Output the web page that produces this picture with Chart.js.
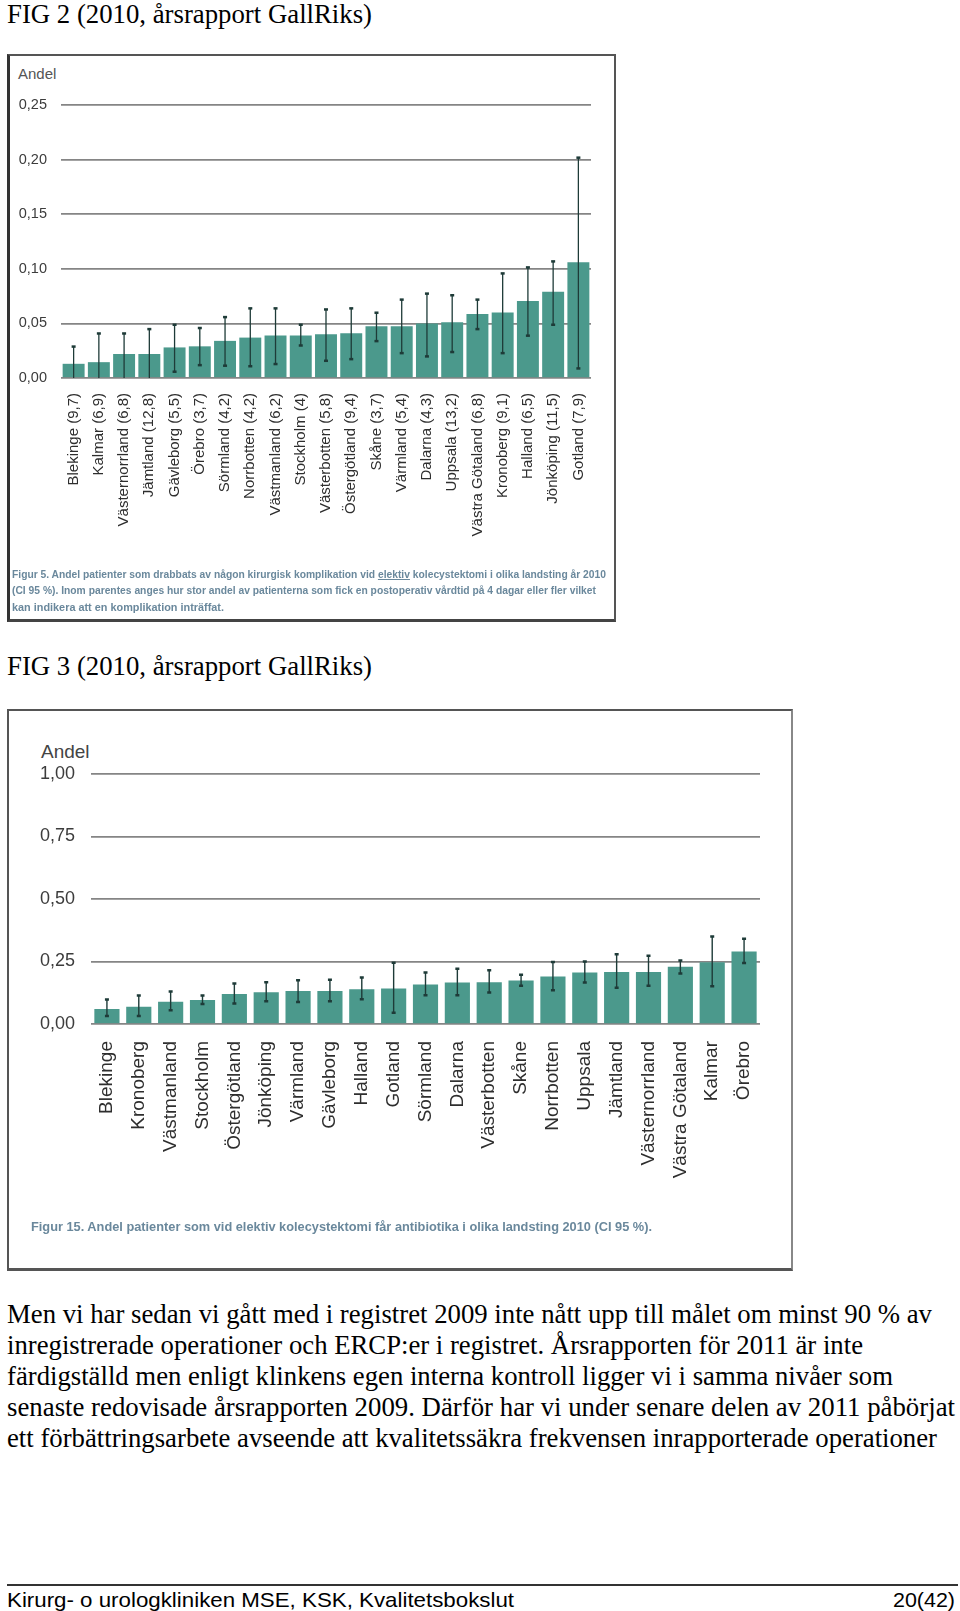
<!DOCTYPE html>
<html>
<head>
<meta charset="utf-8">
<script src="https://cdn.jsdelivr.net/npm/chart.js@4.4.1/dist/chart.umd.min.js"></script>
<style>
  html, body { margin: 0; padding: 0; background: #fff; }
  body { position: relative; width: 960px; height: 1611px; overflow: hidden; }
  .t { position: absolute; white-space: nowrap; transform-origin: 0 0; }
  .serif { font-family: "Liberation Serif", "Times New Roman", serif; color: #000; }
  .sans { font-family: "Liberation Sans", Arial, sans-serif; }
  .frame { position: absolute; box-sizing: border-box; background: #fff; }
  canvas { position: absolute; }
  .cap { font-family: "Liberation Sans", Arial, sans-serif; font-weight: bold; color: #6a889c; }
</style>
</head>
<body>

<div class="t serif" data-w="365" style="left:7px; top:0px; font-size:28px; line-height:28px;">FIG 2 (2010, årsrapport GallRiks)</div>

<div class="frame" style="left:7px; top:54px; width:609px; height:568px; border:2px solid #555; border-left:3px solid #333; border-bottom:3px solid #444;"></div>
<div class="t sans" style="left:18px; top:66px; font-size:15px; line-height:15px; color:#555;">Andel</div>
<canvas id="fig2" width="604" height="560" style="left:9px; top:57px;"></canvas>
<div class="t cap" data-w="594" style="left:12px; top:569px; font-size:11px; line-height:11px;">Figur 5. Andel patienter som drabbats av någon kirurgisk komplikation vid <u>elektiv</u> kolecystektomi i olika landsting år 2010</div>
<div class="t cap" data-w="584" style="left:12px; top:585px; font-size:11px; line-height:11px;">(CI 95 %). Inom parentes anges hur stor andel av patienterna som fick en postoperativ vårdtid på 4 dagar eller fler vilket</div>
<div class="t cap" data-w="212" style="left:12px; top:602px; font-size:11px; line-height:11px;">kan indikera att en komplikation inträffat.</div>

<div class="t serif" data-w="365" style="left:7px; top:652px; font-size:28px; line-height:28px;">FIG 3 (2010, årsrapport GallRiks)</div>

<div class="frame" style="left:7px; top:709px; width:786px; height:562px; border:2px solid #555; border-bottom:3px solid #555; border-right:2px solid #888;"></div>
<div class="t sans" style="left:41px; top:742px; font-size:19px; line-height:19px; color:#444;">Andel</div>
<canvas id="fig3" width="781" height="557" style="left:9px; top:711px;"></canvas>
<div class="t cap" data-w="621" style="left:31px; top:1220px; font-size:13px; line-height:13px;">Figur 15. Andel patienter som vid elektiv kolecystektomi får antibiotika i olika landsting 2010 (CI 95 %).</div>

<div class="t serif" data-w="925" style="left:7px; top:1300px; font-size:28px; line-height:28px;">Men vi har sedan vi gått med i registret 2009 inte nått upp till målet om minst 90 % av</div>
<div class="t serif" data-w="856" style="left:7px; top:1331px; font-size:28px; line-height:28px;">inregistrerade operationer och ERCP:er i registret. Årsrapporten för 2011 är inte</div>
<div class="t serif" data-w="886" style="left:7px; top:1362px; font-size:28px; line-height:28px;">färdigställd men enligt klinkens egen interna kontroll ligger vi i samma nivåer som</div>
<div class="t serif" data-w="948" style="left:7px; top:1393px; font-size:28px; line-height:28px;">senaste redovisade årsrapporten 2009. Därför har vi under senare delen av 2011 påbörjat</div>
<div class="t serif" data-w="930" style="left:7px; top:1424px; font-size:28px; line-height:28px;">ett förbättringsarbete avseende att kvalitetssäkra frekvensen inrapporterade operationer</div>

<div style="position:absolute; left:7px; top:1584px; width:951px; height:0; border-top:2px solid #333;"></div>
<div class="t sans" data-w="507" style="left:7px; top:1589px; font-size:21px; line-height:21px; color:#000;">Kirurg- o urologkliniken MSE, KSK, Kvalitetsbokslut</div>
<div class="t sans" id="pg" data-w="62" style="left:893px; top:1589px; font-size:21px; line-height:21px; color:#000;">20(42)</div>

<script>
// Figur 5: komplikationer per landsting (andel, CI 95 %)
const fig2Labels = ['Blekinge (9,7)', 'Kalmar (6,9)', 'Västernorrland (6,8)', 'Jämtland (12,8)', 'Gävleborg (5,5)',
  'Örebro (3,7)', 'Sörmland (4,2)', 'Norrbotten (4,2)', 'Västmanland (6,2)', 'Stockholm (4)', 'Västerbotten (5,8)',
  'Östergötland (9,4)', 'Skåne (3,7)', 'Värmland (5,4)', 'Dalarna (4,3)', 'Uppsala (13,2)', 'Västra Götaland (6,8)',
  'Kronoberg (9,1)', 'Halland (6,5)', 'Jönköping (11,5)', 'Gotland (7,9)'];
const fig2Values = [0.013, 0.0145, 0.022, 0.022, 0.028, 0.029, 0.034, 0.037, 0.039, 0.039, 0.040,
  0.041, 0.0475, 0.0475, 0.050, 0.051, 0.0585, 0.060, 0.0705, 0.079, 0.106];
const fig2Upper = [0.029, 0.041, 0.041, 0.045, 0.049, 0.046, 0.056, 0.064, 0.064, 0.049, 0.063,
  0.064, 0.060, 0.072, 0.0775, 0.076, 0.072, 0.096, 0.1015, 0.107, 0.202];
const fig2Lower = [0, 0, 0, 0, 0.006, 0.012, 0.0115, 0.011, 0.013, 0.030, 0.016,
  0.0175, 0.034, 0.023, 0.020, 0.024, 0.045, 0.023, 0.039, 0.049, 0.009];
const fig2Ticks = [0, 0.05, 0.10, 0.15, 0.20, 0.25];

// Figur 15: antibiotika per landsting (andel, CI 95 %)
const fig3Labels = ['Blekinge', 'Kronoberg', 'Västmanland', 'Stockholm', 'Östergötland', 'Jönköping', 'Värmland',
  'Gävleborg', 'Halland', 'Gotland', 'Sörmland', 'Dalarna', 'Västerbotten', 'Skåne', 'Norrbotten', 'Uppsala',
  'Jämtland', 'Västernorrland', 'Västra Götaland', 'Kalmar', 'Örebro'];
const fig3Values = [0.060, 0.069, 0.089, 0.096, 0.120, 0.127, 0.132, 0.132, 0.139, 0.142, 0.158,
  0.166, 0.167, 0.174, 0.190, 0.206, 0.208, 0.208, 0.229, 0.247, 0.290];
const fig3Upper = [0.099, 0.115, 0.131, 0.115, 0.163, 0.168, 0.176, 0.178, 0.187, 0.246, 0.207,
  0.222, 0.216, 0.198, 0.249, 0.251, 0.280, 0.274, 0.255, 0.351, 0.342];
const fig3Lower = [0.033, 0.033, 0.056, 0.081, 0.083, 0.092, 0.089, 0.092, 0.100, 0.046, 0.116,
  0.116, 0.127, 0.154, 0.136, 0.167, 0.146, 0.154, 0.203, 0.152, 0.245];
const fig3Ticks = [0, 0.25, 0.50, 0.75, 1.00];

const barColor = '#4b998c';
const whiskerColor = '#1e3b38';

// error bars drawn through the y scale of each chart
const errorBars = {
  id: 'errorBars',
  afterDatasetsDraw(chart, args, opts) {
    const ctx = chart.ctx;
    const y = chart.scales.y;
    const meta = chart.getDatasetMeta(0);
    ctx.save();
    ctx.strokeStyle = whiskerColor;
    ctx.fillStyle = whiskerColor;
    ctx.lineWidth = opts.lineWidth;
    meta.data.forEach((bar, i) => {
      const top = y.getPixelForValue(opts.upper[i]);
      const bot = y.getPixelForValue(opts.lower[i]);
      ctx.beginPath();
      ctx.moveTo(bar.x, top);
      ctx.lineTo(bar.x, bot);
      ctx.stroke();
      ctx.fillRect(bar.x - opts.cap / 2, top - 1, opts.cap, 2.5);
      if (opts.lower[i] > 0) ctx.fillRect(bar.x - opts.cap / 2, bot - 1, opts.cap, 2.5);
    });
    ctx.restore();
  }
};

makeChart = (id, labels, values, upper, lower, ticks, cfg) => {
  return new Chart(document.getElementById(id), {
    type: 'bar',
    data: {
      labels: labels,
      datasets: [{
        data: values,
        backgroundColor: barColor,
        borderWidth: 0,
        barPercentage: cfg.barPct,
        categoryPercentage: 1
      }]
    },
    plugins: [errorBars],
    options: {
      responsive: false,
      animation: false,
      layout: { padding: cfg.padding },
      plugins: {
        legend: { display: false },
        tooltip: { enabled: false },
        errorBars: { upper: upper, lower: lower, cap: cfg.cap, lineWidth: cfg.whisker }
      },
      scales: {
        x: {
          afterFit: (s) => { s.height = cfg.xHeight; },
          grid: { display: false },
          border: { display: false },
          ticks: {
            minRotation: 90, maxRotation: 90, autoSkip: false,
            padding: cfg.xPad,
            color: '#2e2e2e',
            font: { family: 'Liberation Sans, Arial, sans-serif', size: cfg.xFont }
          }
        },
        y: {
          min: 0,
          max: ticks[ticks.length - 1],
          afterFit: (s) => { s.width = cfg.yWidth; },
          afterBuildTicks: (s) => { s.ticks = ticks.map(v => ({ value: v })); },
          border: { display: false },
          grid: { color: '#858585', lineWidth: cfg.gridWidth, drawTicks: false },
          ticks: {
            padding: cfg.yPad,
            color: '#3c3c3c',
            font: { family: 'Liberation Sans, Arial, sans-serif', size: cfg.yFont },
            callback: (v) => v.toFixed(2).replace('.', ',')
          }
        }
      }
    }
  });
}

// fit a line of text to the width it has in the page
fitText = () => {
  document.querySelectorAll('[data-w]').forEach(el => {
    el.style.transform = 'none';
    const w = el.getBoundingClientRect().width;
    const target = parseFloat(el.dataset.w);
    el.style.transform = `scaleX(${target / w})`;
    if (el.id === 'pg') el.style.left = (955 - target) + 'px';
  });
}

loadWindow = () => {
  fitText();
  makeChart('fig2', fig2Labels, fig2Values, fig2Upper, fig2Lower, fig2Ticks, {
    barPct: 0.87, padding: { left: 0, top: 48, right: 22, bottom: 0 },
    xHeight: 239, yWidth: 52, xPad: 7, yPad: 14, xFont: 15, yFont: 14.5,
    cap: 4, whisker: 1.3, gridWidth: 1.7
  });
  makeChart('fig3', fig3Labels, fig3Values, fig3Upper, fig3Lower, fig3Ticks, {
    barPct: 0.79, padding: { left: 0, top: 63, right: 30, bottom: 0 },
    xHeight: 244, yWidth: 82, xPad: 9, yPad: 16, xFont: 19, yFont: 18,
    cap: 4, whisker: 1.4, gridWidth: 1.7
  });
}

window.addEventListener('load', () => document.fonts.ready.then(loadWindow));
</script>
</body>
</html>
